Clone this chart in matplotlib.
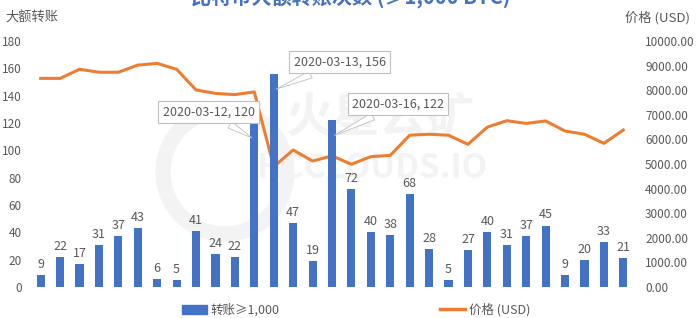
import matplotlib as mpl
mpl.use('Agg')
import matplotlib.pyplot as plt
from matplotlib.patches import Patch, Circle
from matplotlib.lines import Line2D
import numpy as np

plt.rcParams['font.family'] = ['Noto Sans CJK SC', 'DejaVu Sans']

dates = ['2020-03-%02d' % d for d in range(1, 32)]
transfers = [9, 22, 17, 31, 37, 43, 6, 5, 41, 24, 22, 120, 156, 47, 19, 122,
             72, 40, 38, 68, 28, 5, 27, 40, 31, 37, 45, 9, 20, 33, 21]
price = [8480, 8480, 8850, 8730, 8730, 9020, 9090, 8850, 8010, 7870, 7820,
         7930, 4890, 5570, 5120, 5330, 4990, 5300, 5350, 6170, 6210, 6170,
         5800, 6500, 6760, 6650, 6750, 6340, 6210, 5840, 6380]
callouts = ['2020-03-12', '2020-03-13', '2020-03-16']

blue = '#4472C4'
orange = '#ED7D31'
grey = '#595959'
H = 318  # figure height in px, for placing texts from the top


def px(x, y):
    # pixel position from top-left -> figure fraction
    return x / 696, 1 - y / H


fig = plt.figure(figsize=(6.96, 3.18), dpi=100)
ax = fig.add_axes([30 / 696, 1 - 287 / 318, 604 / 696, 246 / 318])
ax2 = ax.twinx()

# faint watermark behind everything
fig.patches.append(Circle((225, H - 172), 62, transform=None, fill=False,
                          ec='#f3f3f3', lw=11, zorder=-1))
fig.text(*px(380, 118), '火星云矿', fontsize=34, color='#f3f3f3',
         ha='center', va='center', fontweight='bold', zorder=-1)
fig.text(*px(372, 168), 'HCCLOUDS.IO', fontsize=24, color='#f3f3f3',
         ha='center', va='center', fontweight='bold', zorder=-1)

x = np.arange(len(dates))
ax.bar(x, transfers, width=0.42, color=blue, zorder=2)
ax.set_ylim(0, 180)
ax.set_yticks(range(0, 181, 20))
ax.set_xlim(-0.55, len(dates) - 0.45)
ax.set_xticks([])

for i, v in enumerate(transfers):
    if dates[i] in callouts:
        continue
    ax.text(i, v + 3, str(v), ha='center', va='bottom', fontsize=9, color=grey)

box_pos = {'2020-03-12': (8.65, 128), '2020-03-13': (15.4, 164.5),
           '2020-03-16': (18.4, 134)}
for d in callouts:
    i = dates.index(d)
    ax.annotate('%s, %d' % (d, transfers[i]), xy=(i, transfers[i] - 12),
                xytext=box_pos[d], ha='center', va='center', fontsize=9,
                color=grey, zorder=6,
                bbox=dict(boxstyle='square,pad=0.35', fc='white', ec='#bfbfbf', lw=0.8),
                arrowprops=dict(arrowstyle='wedge,tail_width=0.6', fc='white',
                                ec='#bfbfbf', lw=0.6))

ax2.plot(x, price, color=orange, lw=2.2, zorder=3)
ax2.set_ylim(0, 10000)
ax2.set_yticks(range(0, 10001, 1000))
ax2.set_yticklabels(['%.2f' % t for t in range(0, 10001, 1000)])

for a in (ax, ax2):
    for s in a.spines.values():
        s.set_visible(False)
    a.tick_params(length=0, labelsize=8.5, colors=grey)
    a.patch.set_visible(False)
ax.tick_params(axis='y', pad=6)
ax2.tick_params(axis='y', pad=8)
ax.set_zorder(ax2.get_zorder() + 1)

fig.text(*px(5, 18), '大额转账', fontsize=9.5, color=grey, va='center')
fig.text(*px(690, 18), '价格 (USD)', fontsize=9.5, color=grey,
         va='center', ha='right')
fig.text(*px(351, -3), '比特币大额转账次数 (≥1,000 BTC)', fontsize=14.5,
         color=blue, fontweight='bold', ha='center', va='center')

handles = [Patch(color=blue), Line2D([], [], color=orange, lw=2.5)]
fig.legend(handles, ['转账≥1,000', '价格 (USD)'], loc='center',
           bbox_to_anchor=px(356, 310), ncol=2, frameon=False,
           fontsize=9, labelcolor=grey, columnspacing=12.8, handlelength=2.0,
           handletextpad=0.3)

fig.savefig('out.png', dpi=100)
